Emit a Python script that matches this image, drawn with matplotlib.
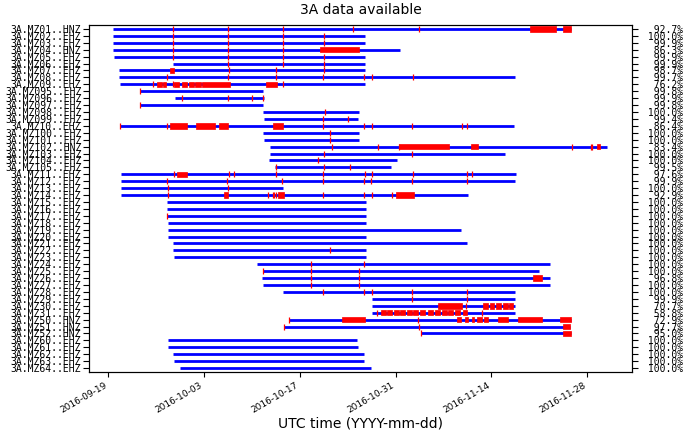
import datetime as dt
import matplotlib
matplotlib.use("Agg")
import matplotlib.pyplot as plt
import matplotlib.dates as mdates
from matplotlib.patches import Rectangle
from matplotlib.collections import PatchCollection

# ---- data (times in days since 2016-09-19 00:00 UTC) ----
t0 = dt.datetime(2016, 9, 19)

labels = ["3A.MZ01..HNZ", "3A.MZ02..EHZ", "3A.MZ03..EHZ", "3A.MZ04..HNZ", "3A.MZ05..EHZ",
          "3A.MZ06..EHZ", "3A.MZ07..EHZ", "3A.MZ08..EHZ", "3A.MZ09..EHZ", "3A.MZ095..EHZ",
          "3A.MZ096..EHZ", "3A.MZ097..EHZ", "3A.MZ098..EHZ", "3A.MZ099..EHZ", "3A.MZ10..EHZ",
          "3A.MZ100..EHZ", "3A.MZ101..EHZ", "3A.MZ102..HNZ", "3A.MZ103..EHZ", "3A.MZ104..EHZ",
          "3A.MZ105..EHZ", "3A.MZ11..EHZ", "3A.MZ12..EHZ", "3A.MZ13..EHZ", "3A.MZ14..EHZ",
          "3A.MZ15..EHZ", "3A.MZ16..EHZ", "3A.MZ17..EHZ", "3A.MZ18..EHZ", "3A.MZ19..EHZ",
          "3A.MZ20..EHZ", "3A.MZ21..EHZ", "3A.MZ22..EHZ", "3A.MZ23..EHZ", "3A.MZ24..EHZ",
          "3A.MZ25..EHZ", "3A.MZ26..EHZ", "3A.MZ27..EHZ", "3A.MZ28..EHZ", "3A.MZ29..EHZ",
          "3A.MZ30..EHZ", "3A.MZ31..EHZ", "3A.MZ50..HNZ", "3A.MZ51..HNZ", "3A.MZ52..HNZ",
          "3A.MZ60..EHZ", "3A.MZ61..EHZ", "3A.MZ62..EHZ", "3A.MZ63..EHZ", "3A.MZ64..EHZ"]

percent = [92.7, 100.0, 99.9, 86.3, 99.9, 99.9, 98.7, 99.7, 76.2, 99.8,
           99.9, 99.8, 100.0, 99.4, 86.4, 100.0, 100.0, 83.4, 100.0, 100.0,
           99.5, 97.6, 99.9, 100.0, 92.9, 100.0, 100.0, 100.0, 100.0, 100.0,
           100.0, 100.0, 100.0, 100.0, 100.0, 100.0, 96.8, 100.0, 100.0, 99.9,
           70.7, 58.8, 72.9, 97.7, 95.0, 100.0, 100.0, 100.0, 100.0, 100.0]

data_start = [0.64, 0.64, 0.70, 0.70, 0.83, 9.50, 1.61, 1.61, 1.71, 4.63,
              9.75, 4.63, 22.65, 22.75, 1.71, 22.56, 22.75, 23.63, 23.63, 23.53,
              24.36, 1.81, 1.81, 1.81, 1.81, 8.53, 8.53, 8.62, 8.68, 8.77,
              8.77, 9.50, 9.50, 9.60, 21.73, 22.56, 22.46, 22.56, 25.57, 38.49,
              38.49, 38.49, 26.41, 25.68, 45.65, 8.68, 8.77, 9.50, 9.60, 10.48]

data_end = [67.57, 37.46, 37.46, 42.63, 37.46, 37.46, 37.46, 59.43, 37.51, 22.65,
            22.75, 22.65, 36.68, 36.53, 59.33, 36.68, 36.68, 72.92, 58.02, 42.23,
            41.27, 59.54, 59.39, 25.49, 52.52, 37.62, 37.62, 37.62, 37.62, 51.59,
            37.62, 52.42, 37.62, 37.62, 64.55, 62.98, 64.55, 64.59, 59.43, 59.43,
            59.43, 59.43, 67.62, 67.47, 67.62, 36.30, 36.53, 37.37, 37.41, 38.39]

gaps = [
    [(61.63, 65.38), (66.40, 67.57)],
    [], [],
    [(30.94, 36.68)],
    [], [],
    [(9.02, 9.60)],
    [],
    [(7.16, 7.85), (7.99, 8.43), (9.60, 10.38), (10.77, 11.55), (11.75, 12.52),
     (12.71, 13.50), (13.69, 17.79), (23.05, 24.61)],
    [], [], [], [], [],
    [(9.02, 11.55), (12.82, 15.59), (16.18, 17.45), (24.03, 25.57)],
    [], [],
    [(42.48, 49.79), (52.96, 54.07), (71.37, 71.86)],
    [], [], [],
    [(10.08, 11.55)],
    [], [],
    [(16.95, 17.54), (24.84, 25.72), (42.04, 44.67)],
    [], [], [], [], [], [], [], [], [], [], [],
    [(62.02, 63.42)],
    [], [], [],
    [(48.22, 51.64), (54.80, 55.53), (55.78, 56.41), (56.66, 57.39), (57.72, 58.37),
     (58.60, 59.19)],
    [(39.85, 40.54), (40.77, 41.50), (41.75, 42.48), (42.63, 43.36), (43.61, 44.34),
     (44.57, 45.30), (45.55, 46.28), (46.76, 47.41), (47.74, 48.47), (48.72, 49.45),
     (49.69, 50.42), (50.67, 51.40), (51.79, 52.46)],
    [(34.11, 37.51), (51.00, 51.50), (52.13, 52.52), (53.11, 53.44), (53.92, 54.57),
     (54.95, 55.44), (56.99, 58.45), (59.92, 63.42), (66.01, 67.62)],
    [(66.40, 67.47)],
    [(66.40, 67.62)],
    [], [], [], [], [],
]

small_gaps = [
    [9.50, 17.54, 25.49, 35.80, 45.45],
    [9.50, 17.54, 25.49, 31.52],
    [9.50, 17.54, 25.49, 31.52],
    [9.50, 17.54, 25.57],
    [9.50, 17.54, 25.49, 31.52],
    [17.54, 25.57, 31.52],
    [17.68, 24.51, 31.52],
    [8.53, 17.45, 24.51, 31.42, 37.41, 38.58, 44.57],
    [6.58, 9.50, 25.57],
    [4.63],
    [10.73, 17.45, 20.96, 22.65],
    [4.63],
    [31.67],
    [31.42, 35.07],
    [1.71, 8.53, 31.33, 37.41, 38.49, 44.43, 51.64, 52.38],
    [32.40],
    [32.40],
    [32.65, 39.46, 42.53, 67.72, 70.50, 70.69],
    [31.52, 44.43],
    [30.60],
    [24.46, 31.52, 35.32],
    [9.60, 17.68, 18.41, 24.51, 31.42, 37.51, 38.58, 44.57, 52.46, 53.19],
    [8.62, 17.39, 25.38, 31.33, 37.37, 38.39, 44.43, 52.38],
    [8.77, 17.54],
    [8.68, 23.38, 24.07, 24.29, 24.51, 31.42, 37.41, 38.49, 41.42],
    [], [],
    [8.62],
    [], [], [], [],
    [32.40],
    [],
    [29.58, 37.37],
    [22.56, 29.62, 36.59],
    [29.62, 36.59],
    [29.62, 36.59],
    [31.42, 37.41, 38.49, 44.43, 52.46],
    [44.43, 52.46],
    [52.27],
    [39.31, 54.65],
    [26.41, 45.21],
    [25.68, 45.45],
    [45.65],
    [], [], [], [], [],
]

xtick_dates = ["2016-09-19", "2016-10-03", "2016-10-17", "2016-10-31", "2016-11-14", "2016-11-28"]
xlim_days = (-2.82, 76.54)

# ---- plotting ----
def to_num(d):
    return mdates.date2num(t0) + d

fig = plt.figure(figsize=(6.85, 4.32), dpi=100)
ax = fig.add_axes([0.1299, 0.140, 0.7927, 0.801])

n = len(labels)
ypos = [n - i for i in range(n)]

for i in range(n):
    y = ypos[i]
    ax.hlines(y, to_num(data_start[i]), to_num(data_end[i]), color="#0000ff", lw=2.0, zorder=2)
    rects = [Rectangle((to_num(a), y - 0.4), b - a, 0.8) for a, b in gaps[i]]
    if rects:
        ax.add_collection(PatchCollection(rects, facecolor="#ff0000", edgecolor="#ff0000",
                                          linewidth=0.5, zorder=3))
    if small_gaps[i]:
        ax.plot([to_num(v) for v in small_gaps[i]], [y] * len(small_gaps[i]), "|",
                color="#ff0000", ms=5, mew=0.9, zorder=3)

ax.set_ylim(0.5, n + 0.5)
ax.set_xlim(to_num(xlim_days[0]), to_num(xlim_days[1]))
ax.set_yticks(ypos)
ax.set_yticklabels(labels, family="DejaVu Sans Mono", fontsize=7.0)
ax.tick_params(axis="y", pad=1.5, length=4)

xt = [mdates.date2num(dt.datetime.strptime(s, "%Y-%m-%d")) for s in xtick_dates]
ax.set_xticks(xt)
ax.set_xticklabels(xtick_dates, rotation=30, ha="right", fontsize=6.5)
ax.set_xlabel("UTC time (YYYY-mm-dd)", fontsize=10, labelpad=1)
ax.set_title("3A data available", fontsize=10, pad=8)

ax2 = ax.twinx()
ax2.set_ylim(ax.get_ylim())
ax2.set_yticks(ypos)
ax2.set_yticklabels(["%6.1f%%" % p for p in percent], family="DejaVu Sans Mono", fontsize=7.0)
ax2.tick_params(axis="y", pad=3, length=4)

fig.savefig("out.png", dpi=100)
